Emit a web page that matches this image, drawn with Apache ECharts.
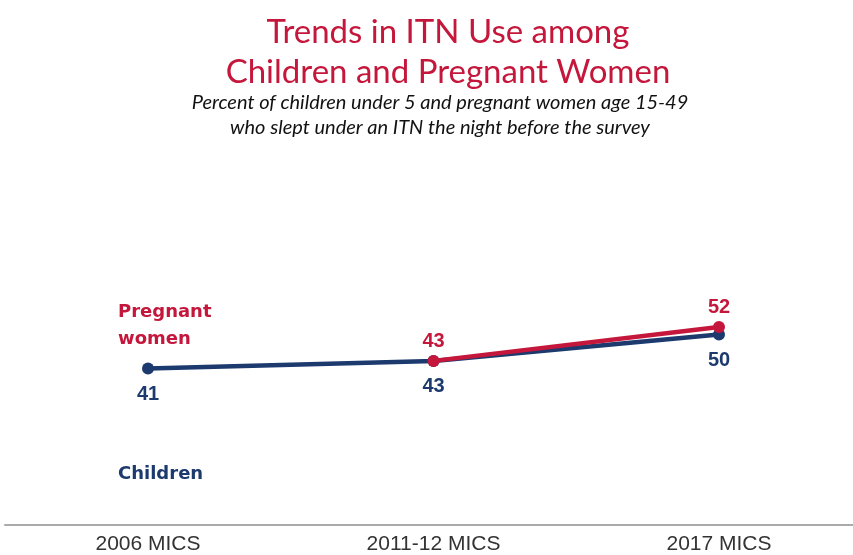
<!DOCTYPE html>
<html><head><meta charset="utf-8">
<script src="https://cdn.jsdelivr.net/npm/echarts@6/dist/echarts.min.js"></script>
<style>html,body{margin:0;padding:0;background:#fff}#c{width:853px;height:555px}</style>
</head><body><div id="c"></div>
<script>
const categories = ['2006 MICS', '2011-12 MICS', '2017 MICS'];
const children = [41, 43, 50];
const pregnantWomen = [null, 43, 52];
const seriesNames = ['Children', 'Pregnant women'];

const RED = '#C4173B';
const BLUE = '#1C3A6E';

const chart = echarts.init(document.getElementById('c'));
chart.setOption({
  backgroundColor: '#fff',
  animation: false,
  grid: [
    { left: 148, right: 134, top: 146, bottom: 30 },
    { left: 5, right: 0, top: 146, bottom: 30 }
  ],
  xAxis: [
    { type: 'category', data: categories, boundaryGap: false, gridIndex: 0,
      axisLine: { show: false },
      axisTick: { show: false },
      axisLabel: { color: '#333', fontFamily: 'Liberation Sans, Arial', fontSize: 21, margin: 11 } },
    { type: 'category', data: categories, gridIndex: 1,
      axisLine: { lineStyle: { color: '#aaaaaa', width: 2 } },
      axisTick: { show: false }, axisLabel: { show: false } }
  ],
  yAxis: [
    { type: 'value', min: 0, max: 100, show: false, splitLine: { show: false }, gridIndex: 0 },
    { type: 'value', min: 0, max: 100, show: false, splitLine: { show: false }, gridIndex: 1 }
  ],
  graphic: [
    { type: 'text', x: 448, y: 12, style: { text: 'Trends in ITN Use among\nChildren and Pregnant Women', fill: RED, font: '33px Lato', lineHeight: 40, textAlign: 'center' } },
    { type: 'text', x: 440, y: 90, style: { text: 'Percent of children under 5 and pregnant women age 15-49\nwho slept under an ITN the night before the survey', fill: '#111', font: 'italic 20px Lato', lineHeight: 25, textAlign: 'center' } },
    { type: 'text', left: 118, top: 299, style: { text: 'Pregnant\nwomen', fill: RED, font: 'bold 18px "DejaVu Sans"', lineHeight: 27 } },
    { type: 'text', left: 118, top: 465, style: { text: 'Children', fill: BLUE, font: 'bold 18px "DejaVu Sans"' } }
  ],
  series: [
    { name: seriesNames[0], type: 'line', data: children, symbol: 'circle', symbolSize: 12,
      lineStyle: { color: BLUE, width: 4.5 }, itemStyle: { color: BLUE },
      label: { show: true, position: 'bottom', distance: 10, color: BLUE, fontWeight: 'bold', fontSize: 20, fontFamily: 'Arial' }, z: 2 },
    { name: seriesNames[1], type: 'line', data: pregnantWomen, symbol: 'circle', symbolSize: 12,
      lineStyle: { color: RED, width: 4.5 }, itemStyle: { color: RED },
      label: { show: true, position: 'top', distance: 3, color: RED, fontWeight: 'bold', fontSize: 20, fontFamily: 'Arial' }, z: 3 }
  ]
});
</script></body></html>
